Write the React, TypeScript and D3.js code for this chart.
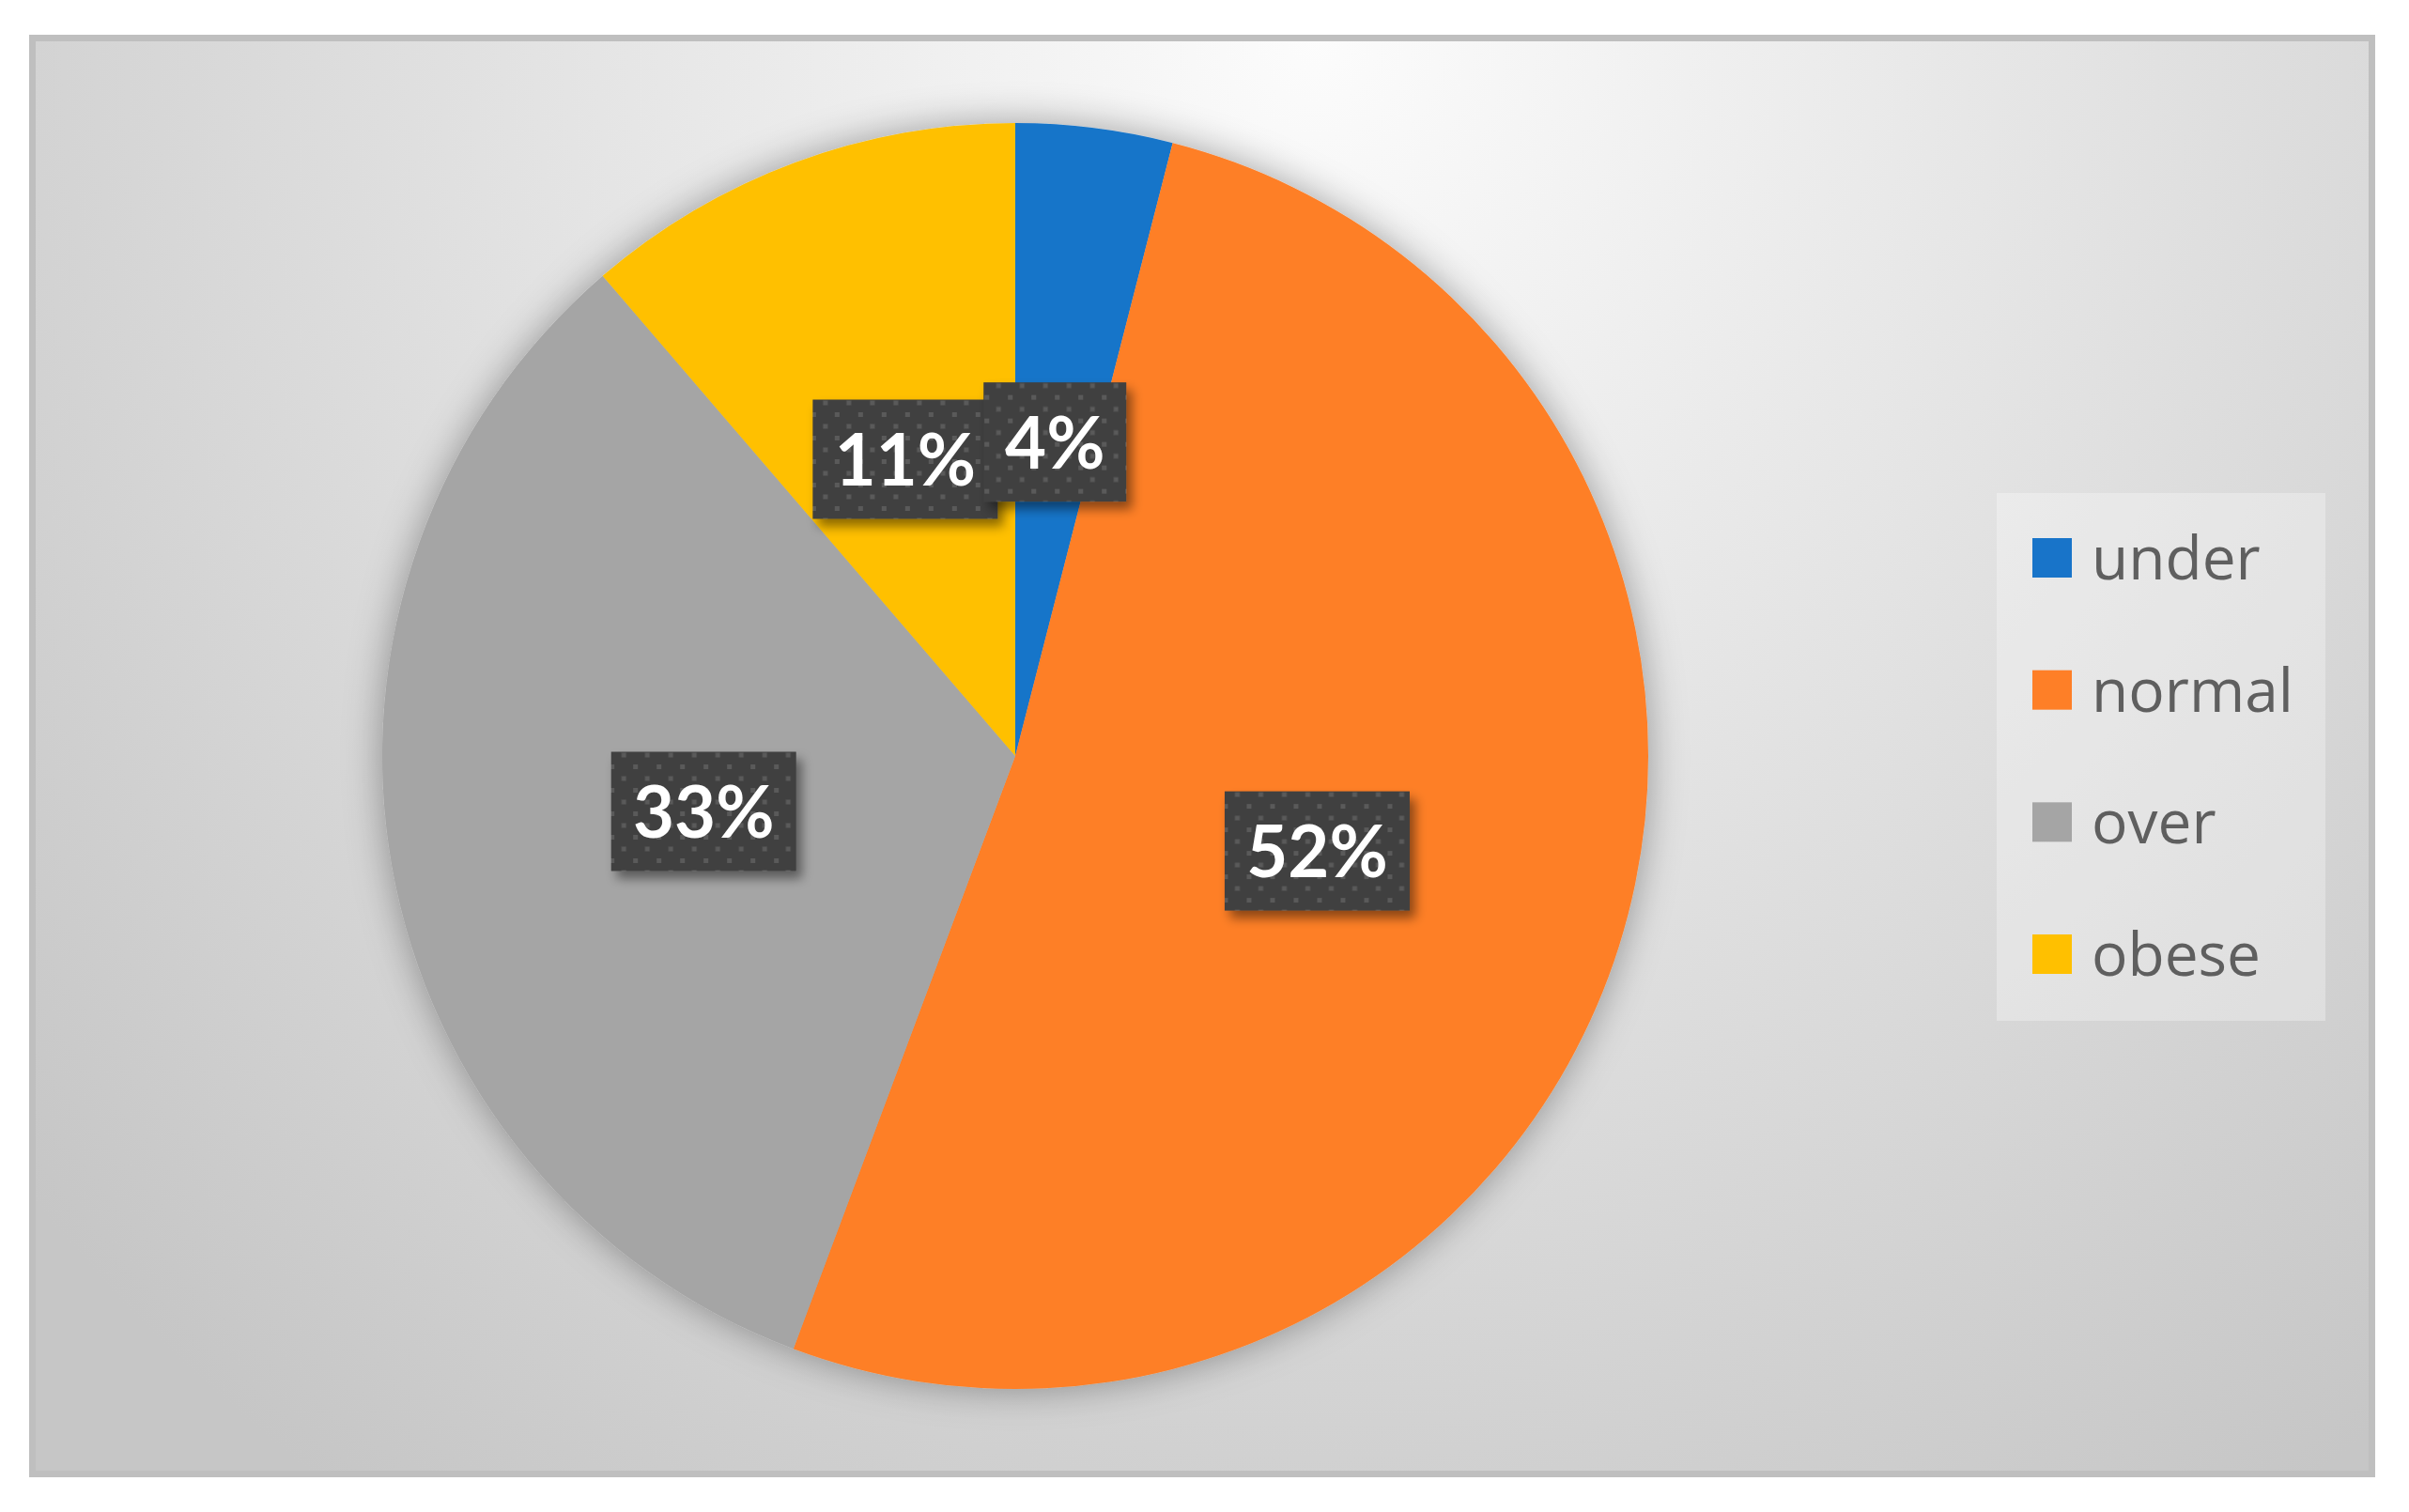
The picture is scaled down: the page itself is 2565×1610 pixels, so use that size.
import React from 'react';
import * as d3 from 'd3';

// BMI category shares (percent)
const categories = ['under', 'normal', 'over', 'obese'];
const shares = [4.0, 51.7, 33.0, 11.3];
const colors = ['#1874C9', '#FE7F27', '#A5A5A5', '#FFC000'];

const W = 2565;
const H = 1610;

const App = () => {
    const cx = 1081;
    const cy = 805;
    const radius = 674;

    const data = categories.map((c, i) => ({label: c, value: shares[i], color: colors[i]}));
    const total = d3.sum(shares);

    const pie = d3.pie<any>()
        .sort(null)
        .value(d => d.value);
    const arcs = pie(data);

    const arc = d3.arc<any>()
        .innerRadius(0)
        .outerRadius(radius);

    const pct = d3.format('.0%');

    // draw labels in reverse so the first one ends up on top
    const labelOrder = [...arcs].reverse();

    const legendY = d3.scalePoint<string>()
        .domain(categories)
        .range([594, 1016]);

    return (
        <svg width={W} height={H} style={{position: 'absolute', left: 0, top: 0}}>
            <defs>
                <radialGradient id="bg" gradientUnits="userSpaceOnUse" cx={0} cy={0} r={1}
                                gradientTransform="translate(1400,40) scale(1800,1900)">
                    <stop offset="0" stopColor="#fcfcfc"/>
                    <stop offset="0.35" stopColor="#e9e9e9"/>
                    <stop offset="1" stopColor="#c6c6c6"/>
                </radialGradient>
                <pattern id="dots" width={25} height={25} patternUnits="userSpaceOnUse">
                    <rect width={25} height={25} fill="#404040"/>
                    <rect x={0} y={0} width={5} height={5} fill="#5a5a5a"/>
                    <rect x={12.5} y={12.5} width={5} height={5} fill="#5a5a5a"/>
                </pattern>
                <filter id="pieShadow" x="-20%" y="-20%" width="140%" height="140%">
                    <feDropShadow dx={0} dy={0} stdDeviation={20} floodColor="#000" floodOpacity={0.35}/>
                </filter>
                <filter id="boxShadow" x="-20%" y="-20%" width="150%" height="150%">
                    <feDropShadow dx={6} dy={8} stdDeviation={6} floodColor="#000" floodOpacity={0.45}/>
                </filter>
            </defs>

            {/* chart area */}
            <rect x={34.5} y={40.5} width={2491} height={1529} fill="url(#bg)" stroke="#bfbfbf" strokeWidth={7}/>

            {/* pie */}
            <g transform={`translate(${cx},${cy})`}>
                <g filter="url(#pieShadow)">
                    {arcs.map(a => (
                        <path key={a.data.label} d={arc(a) as string} fill={a.data.color}/>
                    ))}
                </g>
                {labelOrder.map(a => {
                    const [x, y] = arc.centroid(a);
                    const txt = pct(a.data.value / total);
                    const w = 62 + 45 * txt.length;
                    const h = 127;
                    return (
                        <g key={'l' + a.data.label} transform={`translate(${x},${y})`}>
                            <rect x={-w / 2} y={-h / 2} width={w} height={h} fill="url(#dots)" filter="url(#boxShadow)"/>
                            <text x={0} y={28} textAnchor="middle" fill="#ffffff"
                                  style={{font: 'bold 76px Lato, "Open Sans", sans-serif'}}>{txt}</text>
                        </g>
                    );
                })}
            </g>

            {/* legend */}
            <rect x={2126} y={525} width={350} height={562} fill="#ffffff" fillOpacity={0.3}/>
            {categories.map((c, i) => (
                <g key={'lg' + c} transform={`translate(2164,${legendY(c)})`}>
                    <rect x={0} y={-21} width={42} height={42} fill={colors[i]}/>
                    <text x={63} y={23} fill="#5f5f5f"
                          style={{font: '64px "Open Sans", sans-serif'}}>{c}</text>
                </g>
            ))}
        </svg>
    );
};

export default App;
